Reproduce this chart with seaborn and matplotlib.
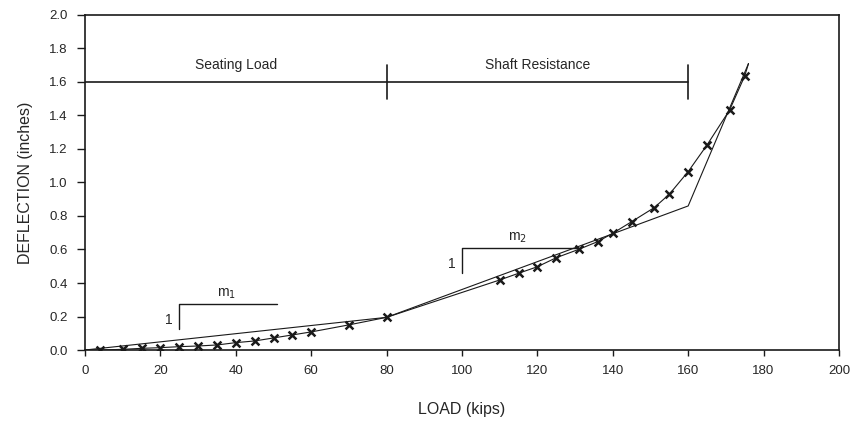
import matplotlib
matplotlib.use("Agg")
import matplotlib.pyplot as plt
import seaborn as sns
import pandas as pd

# measured load test points (kips, inches)
load = [4, 10, 15, 20, 25, 30, 35, 40, 45, 50, 55, 60, 70, 80,
        110, 115, 120, 125, 131, 136, 140, 145, 151, 155, 160, 165, 171, 175]
deflection = [0.0, 0.004, 0.01, 0.014, 0.02, 0.024, 0.03, 0.044, 0.054, 0.072, 0.09, 0.108, 0.15, 0.195,
              0.418, 0.458, 0.497, 0.551, 0.601, 0.647, 0.697, 0.766, 0.85, 0.93, 1.065, 1.224, 1.433, 1.636]

# curve ends (start at origin, run a little past the last point)
curve_start = (0, 0.0)
curve_end = (176, 1.71)

# bilinear idealisation
bilinear_load = [0, 80, 160, 176]
bilinear_defl = [0.0, 0.195, 0.86, 1.71]

# phase bar
phase_level = 1.6
phase_edges = [0, 80, 160]
phase_names = ["Seating Load", "Shaft Resistance"]

# slope triangles: corner x, corner y, horizontal end x, vertical bottom y
slope_m1 = (25, 0.275, 51, 0.123)
slope_m2 = (100, 0.607, 130.5, 0.462)

x_ticks = list(range(0, 201, 20))
y_ticks = [0.0, 0.2, 0.4, 0.6, 0.8, 1.0, 1.2, 1.4, 1.6, 1.8, 2.0]

sns.set_style("ticks")
plt.rcParams['font.family'] = ['Liberation Sans', 'DejaVu Sans']
ink = "#1a1a1a"
txt = "#262626"

fig = plt.figure(figsize=(8.52, 4.22), dpi=100)
ax = fig.add_axes([0.0998, 0.1706, 0.8849, 0.7939])

curve = pd.DataFrame({
    "load": [curve_start[0]] + load + [curve_end[0]],
    "defl": [curve_start[1]] + deflection + [curve_end[1]],
})
sns.lineplot(data=curve, x="load", y="defl", ax=ax, color=ink, lw=0.8,
             sort=False, estimator=None)
sns.lineplot(x=bilinear_load, y=bilinear_defl, ax=ax, color=ink, lw=0.8,
             sort=False, estimator=None)
sns.scatterplot(x=load, y=deflection, ax=ax, marker="x", s=32, color=ink,
                linewidth=1.8, zorder=5)

# phase bar with end ticks
ax.plot([phase_edges[0], phase_edges[-1]], [phase_level, phase_level], color=ink, lw=1.2)
for e in phase_edges[1:]:
    ax.plot([e, e], [phase_level - 0.1, phase_level + 0.1], color=ink, lw=1.2)
for i, name in enumerate(phase_names):
    mid = (phase_edges[i] + phase_edges[i + 1]) / 2
    ax.text(mid, phase_level + 0.1, name, ha="center", va="center", fontsize=10, color=txt)

# slope markers
for (cx, cy, hx, vy), sub in [(slope_m1, "1"), (slope_m2, "2")]:
    ax.plot([cx, cx, hx], [vy, cy, cy], color=ink, lw=1.0)
    ax.text(cx - 2.8, (cy + vy) / 2 - 0.02, "1", ha="center", va="center", fontsize=10, color=txt)
    ax.text((cx + hx) / 2 - 0.5, cy + 0.06, "m$_{" + sub + "}$", ha="center", va="center",
            fontsize=10, color=txt)

ax.set_xlim(0, 200)
ax.set_ylim(0, 2.0)
ax.set_xticks(x_ticks)
ax.set_yticks(y_ticks)
ax.set_yticklabels([f"{v:.1f}" for v in y_ticks])
ax.tick_params(axis="both", labelsize=9.5, labelcolor=txt, color=ink, width=1.0)
ax.tick_params(axis="x", length=4.5, pad=6)
ax.tick_params(axis="y", length=5.5, pad=7)
for side in ["top", "right", "left", "bottom"]:
    ax.spines[side].set_visible(True)
    ax.spines[side].set_linewidth(1.2)
    ax.spines[side].set_color(ink)

ax.set_xlabel("LOAD (kips)", fontsize=11.5, color=txt, labelpad=18)
ax.set_ylabel("DEFLECTION (inches)", fontsize=11.5, color=txt, labelpad=12)

fig.savefig("out.png", dpi=100)
